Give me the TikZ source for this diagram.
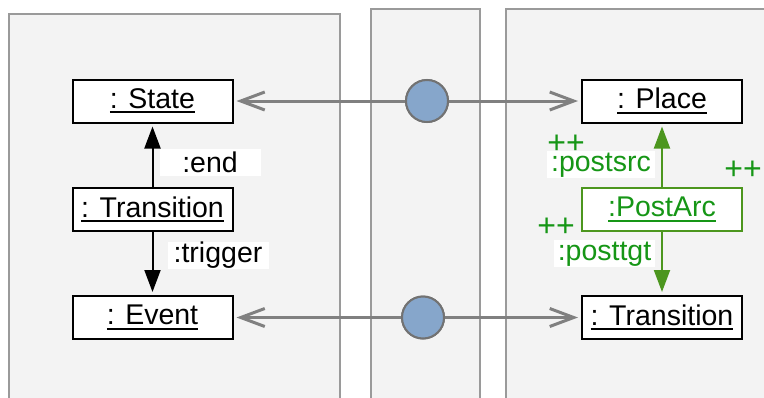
\documentclass[tikz,border=0pt]{standalone}
\usepackage{fontspec}
\setmainfont{Liberation Sans}
\usetikzlibrary{arrows.meta}

\definecolor{panelbg}{HTML}{F3F3F3}
\definecolor{panelline}{HTML}{9A9A9A}
\definecolor{corrgray}{HTML}{808080}
\definecolor{dotblue}{HTML}{86A6CB}
\definecolor{dotline}{HTML}{727272}
\definecolor{arcgreen}{HTML}{4C961E}
\definecolor{txtgreen}{HTML}{169616}

% underlined object name
\newcommand\uname[1]{\setbox0\hbox{#1}\rlap{\rule[-5pt]{\wd0}{2pt}}\box0}

\begin{document}
\begin{tikzpicture}[
  x=1pt, y=-1pt,
  font=\fontsize{28.5}{34}\selectfont,
  panel/.style={draw=panelline, fill=panelbg, line width=2pt},
  obj/.style={draw, fill=white, line width=2pt, minimum width=160pt,
    minimum height=43pt, inner sep=0pt},
  newobj/.style={obj, draw=arcgreen, text=txtgreen, line width=1.5pt},
  link/.style={-{Triangle[length=22pt, width=16pt]}, line width=2pt, shorten >=3pt},
  newlink/.style={link, draw=arcgreen},
  role/.style={fill=white, inner xsep=3pt, inner ysep=0pt,
    minimum width=101pt, minimum height=27pt},
  corr/.style={-{Straight Barb[length=24pt, width=18pt]}, draw=corrgray,
    line width=3pt, shorten >=3pt},
  dot/.style={circle, draw=dotline, fill=dotblue, line width=2pt,
    minimum size=42pt, inner sep=0pt},
  plus/.style={text=txtgreen, font=\fontsize{32}{36}\selectfont, inner sep=0pt},
]
\useasboundingbox (0,0) rectangle (764,397);
\clip (0,0) rectangle (764,397);

% panels (open at the bottom)
\draw[panel] (9,14) rectangle (340,420);
\draw[panel] (371,9) rectangle (480,420);
\draw[panel] (506,9) rectangle (780,420);

% left model
\node[obj] (st) at (152.5,101) {\uname{: State}};
\node[obj] (tr) at (152.5,209.5) {\uname{: Transition}};
\node[obj] (ev) at (152.5,317.5) {\uname{: Event}};

% right model
\node[obj] (pl) at (662,101) {\uname{: Place}};
\node[newobj] (pa) at (662,209.5) {\uname{:PostArc}};
\node[obj] (tn) at (662,317.5) {\uname{: Transition}};

% links
\draw[link] (tr) -- (st)
  node[role, anchor=west, pos=0.39, xshift=6pt] (lend) {:end};
\draw[link] (tr) -- (ev)
  node[role, anchor=west, pos=0.37, xshift=14pt] (ltrig) {:trigger};
\draw[newlink] (pa) -- (pl)
  node[role, text=txtgreen, anchor=east, pos=0.35, xshift=-6pt, minimum width=108pt] (lsrc) {:postsrc};
\draw[newlink] (pa) -- (tn)
  node[role, text=txtgreen, anchor=east, pos=0.35, xshift=-6pt] (ltgt) {:posttgt};

% creation marks
\node[plus] (p1) at (566,144) {++};
\node[plus] (p2) at (743,170) {++};
\node[plus] (p3) at (556,227) {++};

% correspondences
\node[dot] (m1) at (427,101) {};
\node[dot] (m2) at (423,317.5) {};
\draw[corr] (m1) -- (st);
\draw[corr] (m1) -- (pl);
\draw[corr] (m2) -- (ev);
\draw[corr] (m2) -- (tn);
\node[dot] at (m1) {};
\node[dot] at (m2) {};

\end{tikzpicture}
\end{document}
